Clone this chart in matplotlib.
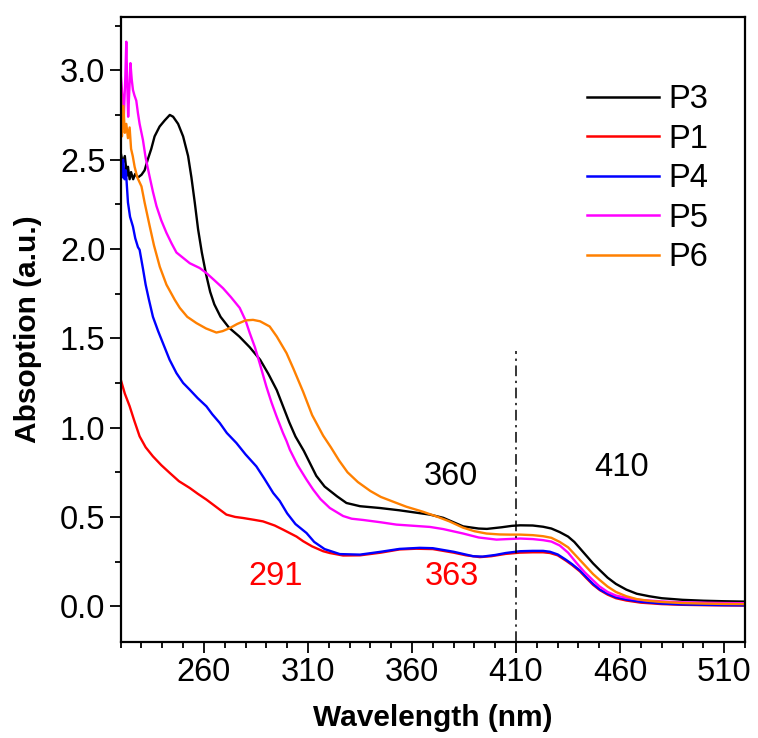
import matplotlib
matplotlib.use("Agg")
import matplotlib.pyplot as plt
from matplotlib.ticker import MultipleLocator

plt.rcParams['font.family'] = ['Liberation Sans', 'DejaVu Sans']

# ---------------- data ----------------
P3_x = [220, 221, 222, 223, 223.5, 224.3, 225, 226, 227, 228.3, 230, 231.5, 233, 234.7, 236.3,
        238.7, 241.2, 243.6, 245.2, 247.6, 250, 252.4, 254, 255.6, 257.2, 259, 261, 263, 265, 268,
        272, 277, 282, 287, 291, 295, 298, 301, 304, 308, 311, 314, 318, 324, 328.5, 335, 344.5,
        354, 368.6, 375, 384.6, 392, 396, 403, 408, 412, 418, 423, 427, 431, 435, 438, 441, 444,
        447, 450, 454, 458, 463, 468, 474, 480, 490, 500, 510, 520]
P3_y = [2.54, 2.48, 2.52, 2.41, 2.46, 2.39, 2.43, 2.39, 2.42, 2.40, 2.415, 2.44, 2.50, 2.56, 2.63,
        2.685, 2.72, 2.75, 2.74, 2.70, 2.63, 2.52, 2.40, 2.26, 2.11, 1.98, 1.86, 1.76, 1.69, 1.62,
        1.56, 1.51, 1.45, 1.38, 1.30, 1.21, 1.12, 1.03, 0.95, 0.87, 0.80, 0.73, 0.67, 0.615, 0.578,
        0.56, 0.55, 0.537, 0.513, 0.495, 0.447, 0.435, 0.433, 0.442, 0.45, 0.453, 0.452, 0.445,
        0.435, 0.415, 0.39, 0.36, 0.32, 0.28, 0.24, 0.205, 0.16, 0.125, 0.093, 0.07, 0.056, 0.045,
        0.036, 0.031, 0.028, 0.026]

P1_x = [220, 222, 224.3, 226.5, 229.1, 232, 235.5, 239.5, 243.6, 248, 253.2, 257, 261.2, 266,
        270.8, 275, 278.8, 284, 288.4, 294, 298, 304.5, 307.7, 312, 317.3, 320.5, 326.9, 335, 345,
        354, 362, 370, 380, 386, 392.6, 398, 405, 411.8, 418, 423, 426.3, 430, 434, 437, 440.7,
        444, 447, 450.3, 454, 458, 463, 470, 480, 490, 500, 510, 520]
P1_y = [1.27, 1.19, 1.12, 1.04, 0.951, 0.89, 0.839, 0.79, 0.746, 0.70, 0.662, 0.63, 0.597, 0.555,
        0.513, 0.50, 0.494, 0.484, 0.475, 0.452, 0.429, 0.39, 0.364, 0.335, 0.308, 0.298, 0.284,
        0.285, 0.30, 0.318, 0.322, 0.32, 0.30, 0.285, 0.275, 0.28, 0.293, 0.30, 0.302, 0.302,
        0.298, 0.285, 0.255, 0.23, 0.195, 0.155, 0.12, 0.09, 0.065, 0.045, 0.032, 0.02, 0.012,
        0.008, 0.006, 0.005, 0.004]

P4_x = [220, 220.6, 221.2, 221.9, 222.5, 223.5, 224.5, 225.9, 227, 228.3, 229.1, 230.7, 232,
        233.5, 235.5, 238, 240.3, 243.5, 246.8, 250, 253.2, 257, 261.2, 264, 267.6, 271, 275.6,
        280, 285.2, 289, 293.3, 296.4, 300, 304, 309.3, 313, 318, 325.3, 335, 345, 354, 363.7,
        370, 380, 389.4, 394, 400, 405, 411.8, 418, 423, 426.3, 430, 434, 437, 440.7, 444, 447,
        450.3, 454, 458, 463.1, 470, 480, 490, 500, 510, 520]
P4_y = [2.46, 2.40, 2.50, 2.39, 2.44, 2.26, 2.18, 2.125, 2.06, 2.01, 1.995, 1.89, 1.80, 1.72, 1.62,
        1.54, 1.473, 1.38, 1.305, 1.25, 1.212, 1.165, 1.119, 1.075, 1.026, 0.97, 0.914, 0.85,
        0.783, 0.715, 0.634, 0.59, 0.52, 0.46, 0.41, 0.36, 0.32, 0.292, 0.289, 0.305, 0.321,
        0.327, 0.325, 0.305, 0.28, 0.278, 0.287, 0.298, 0.308, 0.31, 0.31, 0.305, 0.29, 0.26,
        0.235, 0.20, 0.16, 0.125, 0.093, 0.07, 0.05, 0.037, 0.025, 0.015, 0.01, 0.008, 0.006, 0.005]

P5_x = [220, 220.8, 221.5, 222.2, 222.7, 223.2, 223.6, 224.2, 224.7, 225.3, 225.9, 226.6, 227.5,
        228.3, 229.1, 230.7, 232, 233.9, 235.5, 237.2, 239.5, 242, 244.5, 246.8, 250, 253.2, 258,
        261.2, 265, 269.2, 273, 277.2, 280, 282, 284.5, 286.8, 290, 292.5, 294.9, 298, 299.7,
        301.3, 305, 309.3, 312.5, 316, 320.5, 326.9, 331, 336.5, 345, 352.5, 368.6, 375, 384.6,
        392, 400.6, 406, 412, 418, 423, 427, 431, 435, 439, 443, 447, 450, 454, 458, 463, 470,
        480, 490, 500, 510, 520]
P5_y = [2.98, 2.86, 2.74, 2.95, 3.16, 2.90, 2.74, 2.90, 3.04, 2.95, 2.89, 2.86, 2.83, 2.76, 2.70,
        2.61, 2.51, 2.405, 2.32, 2.24, 2.16, 2.09, 2.03, 1.98, 1.95, 1.92, 1.893, 1.865, 1.825,
        1.78, 1.73, 1.67, 1.60, 1.53, 1.45, 1.36, 1.23, 1.14, 1.063, 0.97, 0.925, 0.876, 0.79,
        0.709, 0.653, 0.60, 0.55, 0.505, 0.49, 0.483, 0.47, 0.457, 0.444, 0.432, 0.407, 0.385,
        0.373, 0.376, 0.379, 0.376, 0.37, 0.362, 0.34, 0.30, 0.243, 0.19, 0.145, 0.112, 0.08,
        0.06, 0.047, 0.035, 0.027, 0.022, 0.02, 0.018, 0.017]

P6_x = [220, 220.6, 221.3, 222, 222.7, 223.5, 224.3, 225, 225.8, 226.7, 228, 230, 231.5, 233.9,
        236, 238.8, 242, 246, 248.4, 252, 256.4, 261, 266, 269, 272.4, 276, 280, 283.6, 287,
        291.6, 295, 299.7, 303, 307.7, 312, 317.3, 321, 325, 329, 334, 340, 345, 351, 357.3,
        365, 371.7, 378, 384.5, 390, 395.8, 402, 407, 412, 418, 423, 427, 431, 435, 439, 443,
        447, 450, 454, 458, 463, 468, 474, 480, 490, 500, 510, 520]
P6_y = [2.96, 2.63, 2.80, 2.65, 2.70, 2.62, 2.68, 2.56, 2.52, 2.46, 2.40, 2.35, 2.26, 2.13, 2.02,
        1.90, 1.80, 1.715, 1.67, 1.62, 1.585, 1.555, 1.532, 1.54, 1.557, 1.58, 1.60, 1.603,
        1.595, 1.566, 1.51, 1.417, 1.33, 1.20, 1.07, 0.955, 0.89, 0.815, 0.75, 0.695, 0.645,
        0.612, 0.585, 0.557, 0.53, 0.503, 0.475, 0.44, 0.42, 0.407, 0.402, 0.401, 0.401, 0.398,
        0.392, 0.383, 0.36, 0.33, 0.28, 0.23, 0.18, 0.149, 0.11, 0.08, 0.056, 0.04, 0.03, 0.024,
        0.018, 0.015, 0.013, 0.012]

series = [("P3", P3_x, P3_y, "#000000"),
          ("P1", P1_x, P1_y, "#ff0000"),
          ("P4", P4_x, P4_y, "#0000ff"),
          ("P5", P5_x, P5_y, "#ff00ff"),
          ("P6", P6_x, P6_y, "#ff8000")]

x_ticks = [260, 310, 360, 410, 460, 510]
y_ticks = [0.0, 0.5, 1.0, 1.5, 2.0, 2.5, 3.0]
marker_x = 410
annotations = [("360", 378.6, 0.727, "#000000"),
               ("410", 460.7, 0.774, "#000000"),
               ("291", 294.5, 0.168, "#ff0000"),
               ("363", 379.4, 0.168, "#ff0000")]

# ---------------- figure ----------------
FS = 23.5
LFS = 21.5
fig = plt.figure(figsize=(7.58, 7.38), dpi=100)
ax = fig.add_axes([0.1592, 0.1301, 0.8236, 0.8473])

for name, xs, ys, c in series:
    ax.plot(xs, ys, color=c, lw=1.7, label=name)

ax.plot([marker_x, marker_x], [-0.2, 1.43], color='black', lw=1.1,
        linestyle=(0, (7, 3, 1.5, 3)))

for txt, xv, yv, c in annotations:
    ax.text(xv, yv, txt, color=c, fontsize=FS, ha='center', va='center')

ax.set_xlim(220, 520)
ax.set_ylim(-0.2, 3.3)
ax.set_xticks(x_ticks)
ax.set_yticks(y_ticks)
ax.set_yticklabels([f"{v:.1f}" for v in y_ticks])
ax.xaxis.set_minor_locator(MultipleLocator(10))
ax.yaxis.set_minor_locator(MultipleLocator(0.25))
ax.tick_params(which='major', direction='out', length=8, width=1.3, labelsize=FS, pad=3)
ax.tick_params(which='minor', direction='out', length=4.5, width=1.3)
ax.tick_params(top=False, right=False, which='both')
for s in ax.spines.values():
    s.set_linewidth(1.6)

ax.set_xlabel("Wavelength (nm)", fontsize=LFS, fontweight='bold', labelpad=11)
ax.set_ylabel("Absoption (a.u.)", fontsize=LFS, fontweight='bold', labelpad=13)

leg = ax.legend(loc='upper left', bbox_to_anchor=(0.747, 0.892), frameon=False,
                fontsize=FS, handlelength=2.2, handletextpad=0.28, labelspacing=0.26,
                borderaxespad=0, borderpad=0)
for line in leg.get_lines():
    line.set_linewidth(1.8)

fig.savefig("out.png", dpi=100)
